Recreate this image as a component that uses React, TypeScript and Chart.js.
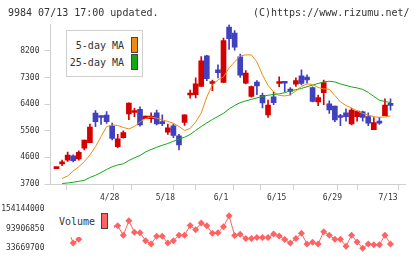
import { useEffect, useRef } from 'react';
import { Chart, registerables } from 'chart.js';

Chart.register(...registerables);

// Trading days shown on the chart (2020)
const dates = [
  '4/14', '4/15', '4/16', '4/17', '4/20', '4/21', '4/22', '4/23', '4/24', '4/27',
  '4/28', '4/30', '5/1', '5/7', '5/8', '5/11', '5/12', '5/13', '5/14', '5/15',
  '5/18', '5/19', '5/20', '5/21', '5/22', '5/25', '5/26', '5/27', '5/28', '5/29',
  '6/1', '6/2', '6/3', '6/4', '6/5', '6/8', '6/9', '6/10', '6/11', '6/12',
  '6/15', '6/16', '6/17', '6/18', '6/19', '6/22', '6/23', '6/24', '6/25', '6/26',
  '6/29', '6/30', '7/1', '7/2', '7/3', '7/6', '7/7', '7/8', '7/9', '7/10',
  '7/13',
];

const open = [
  4220, 4380, 4510, 4650, 4550, 4910, 5100, 6100, 6000, 6030,
  5660, 4960, 5270, 6070, 6120, 6230, 5910, 5910, 6110, 5810,
  5450, 5670, 5330, 5780, 6710, 6720, 7000, 8040, 7100, 7560,
  7140, 9010, 8810, 8000, 7110, 6660, 7150, 6700, 6040, 6650,
  7100, 7160, 6910, 7080, 7360, 7320, 6960, 6480, 6790, 6410,
  6340, 5990, 6110, 5730, 5980, 6140, 5980, 5540, 5810, 6010,
  6400,
];
const high = [
  4240, 4510, 4780, 4690, 4820, 5190, 5730, 6180, 6010, 6150,
  5760, 5380, 5500, 6450, 6260, 6310, 6000, 6110, 6200, 6040,
  5730, 5730, 5380, 6040, 6880, 7290, 8010, 8050, 7220, 7730,
  8640, 9090, 8890, 8100, 7540, 7010, 7200, 6780, 6540, 6820,
  7330, 7170, 6960, 7290, 7560, 7390, 6990, 6710, 7220, 6510,
  6340, 6060, 6240, 6260, 6170, 6170, 6110, 5950, 5950, 6580,
  6580,
];
const low = [
  4220, 4320, 4460, 4450, 4510, 4850, 5100, 5640, 5720, 5750,
  5190, 4930, 5250, 5880, 5980, 5660, 5910, 5780, 5700, 5670,
  5380, 5270, 4850, 5680, 6600, 6610, 7000, 7200, 6860, 7290,
  7140, 8250, 8230, 7310, 7090, 6640, 6720, 6270, 5950, 6380,
  6990, 6820, 6710, 7000, 7050, 7110, 6475, 6350, 6380, 6090,
  5810, 5670, 5830, 5700, 5830, 5830, 5670, 5540, 5720, 6010,
  6200,
];
const close = [
  4240, 4450, 4680, 4490, 4770, 5190, 5630, 5810, 5950, 5810,
  5240, 5230, 5440, 6440, 6170, 5700, 6000, 6000, 5730, 5740,
  5600, 5340, 5020, 6040, 6750, 7090, 7870, 7260, 7150, 7470,
  8550, 8620, 8330, 7380, 7450, 7000, 7020, 6440, 6370, 6450,
  7160, 7110, 6830, 7200, 7100, 7220, 6490, 6620, 7130, 6210,
  5870, 5950, 5980, 6200, 6170, 5950, 5760, 5780, 5760, 6370,
  6360,
];

const ma5 = [
  null, 3886, 3971, 4140, 4286, 4455, 4682, 4963, 5302, 5640,
  5698, 5681, 5613, 5562, 5647, 5799, 5918, 5969, 5924, 5867,
  5816, 5755, 5647, 5512, 5579, 5799, 6104, 6646, 7052, 7221,
  7323, 7628, 7831, 8034, 8068, 8068, 7831, 7391, 7035, 6815,
  6697, 6680, 6713, 6849, 7001, 7086, 7069, 6967, 6917, 6906,
  6697, 6477, 6358, 6273, 6172, 6087, 6036, 5975, 5958, 5969,
  6002,
];
const ma25 = [
  null, 3717, 3734, 3758, 3791, 3825, 3920, 3995, 4089, 4191,
  4282, 4343, 4384, 4496, 4587, 4665, 4784, 4868, 4943, 5010,
  5071, 5146, 5224, 5281, 5376, 5512, 5647, 5765, 5884, 5986,
  6094, 6240, 6358, 6453, 6510, 6561, 6612, 6663, 6703, 6730,
  6747, 6791, 6849, 6890, 6934, 6991, 7045, 7103, 7154, 7177,
  7154, 7086, 7035, 6984, 6951, 6900, 6798, 6663, 6534, 6493,
  6453,
];

const volume = [
  97000000, 106000000, 94000000, 49500000, 60900000, 118000000, 154144000, 128000000, 108000000, 112000000,
  100000000, 102400000, 73400000, 117700000, 82400000, 81500000, 56400000, 46500000, 70400000, 70600000,
  49500000, 56400000, 73400000, 73300000, 103300000, 90500000, 111400000, 102400000, 79400000, 81500000,
  99400000, 133200000, 72500000, 76400000, 63600000, 63500000, 66500000, 66400000, 66600000, 77300000,
  71300000, 60600000, 49500000, 63600000, 79400000, 46500000, 51600000, 46600000, 84500000, 73400000,
  61500000, 61400000, 39600000, 73400000, 52500000, 33669700, 46500000, 44100000, 44200000, 73500000,
  46500000,
];

const priceTicks = [3700, 4600, 5500, 6400, 7300, 8200];
const volumeTicks = [33669700, 93906850, 154144000];
const dateLabelStep = 10;

const UP = '#d40000';
const DOWN = '#4040c0';
const MA5_COLOR = '#f08a10';
const MA25_COLOR = '#14a814';
const VOL_COLOR = '#ff6262';
const AXIS = '#d0d0d0';
const TEXT = '#333333';
const MONO = '"DejaVu Sans Mono", "Liberation Mono", monospace';

const X_MIN = -1.078;
const X_MAX = 62.69;
const PLOT_LEFT = 50.5;
const PLOT_RIGHT_PAD = 14.5;

const isDateTick = (v: number) => Number.isInteger(v) && v % dateLabelStep === 0 && v < dates.length;

export default function App() {
  const mainRef = useRef<HTMLCanvasElement | null>(null);
  const volRef = useRef<HTMLCanvasElement | null>(null);

  useEffect(() => {
    if (!mainRef.current || !volRef.current) return;
    const candleColors = close.map((c, i) => (c >= open[i] ? UP : DOWN));
    const divisions = Array.from({ length: 12 }, (_, k) => X_MIN + (k * (X_MAX - X_MIN)) / 11);
    const dateIdx = dates.map((_, i) => i).filter((i) => i % dateLabelStep === 0 && i > 0);

    const main = new Chart(mainRef.current, {
      type: 'bar',
      data: {
        datasets: [
          {
            type: 'line',
            label: '5-day MA',
            data: ma5.map((v, i) => ({ x: i, y: v })),
            borderColor: MA5_COLOR,
            borderWidth: 1,
            pointRadius: 0,
            tension: 0,
          },
          {
            type: 'line',
            label: '25-day MA',
            data: ma25.map((v, i) => ({ x: i, y: v })),
            borderColor: MA25_COLOR,
            borderWidth: 1,
            pointRadius: 0,
            tension: 0,
          },
          {
            type: 'bar',
            label: 'range',
            data: low.map((l, i) => ({ x: i, y: [l, high[i]] })),
            backgroundColor: candleColors,
            barThickness: 1,
            grouped: false,
            borderWidth: 0,
          },
          {
            type: 'bar',
            label: 'body',
            data: open.map((o, i) => ({ x: i, y: [o, close[i]] })),
            backgroundColor: candleColors,
            barThickness: 5,
            grouped: false,
            borderWidth: 0,
            minBarLength: 2,
          },
        ] as any,
      },
      options: {
        responsive: false,
        animation: false,
        devicePixelRatio: 1,
        events: [],
        layout: { padding: { top: 24.4, right: PLOT_RIGHT_PAD, bottom: 55, left: 0 } },
        plugins: { legend: { display: false }, tooltip: { enabled: false } },
        scales: {
          x: {
            type: 'linear',
            min: X_MIN,
            max: X_MAX,
            bounds: 'data',
            offset: false,
            afterBuildTicks: (s: any) => {
              s.ticks = [...divisions, ...dateIdx].sort((a, b) => a - b).map((value) => ({ value }));
            },
            afterFit: (s: any) => {
              s.height = 20;
            },
            grid: {
              drawOnChartArea: false,
              drawTicks: true,
              tickLength: 6,
              color: AXIS,
              tickColor: (c: any) => (c.tick && isDateTick(c.tick.value) ? 'rgba(0,0,0,0)' : AXIS),
            },
            border: { display: true, color: AXIS, width: 1 },
            ticks: {
              autoSkip: false,
              maxRotation: 0,
              minRotation: 0,
              padding: 3,
              labelOffset: -2.5,
              color: TEXT,
              font: { family: MONO, size: 8 },
              callback: (v: any) => (isDateTick(v) ? dates[v] : ''),
            },
          },
          y: {
            type: 'linear',
            min: 3700,
            max: 9100,
            afterBuildTicks: (s: any) => {
              s.ticks = priceTicks.map((value) => ({ value }));
            },
            afterFit: (s: any) => {
              s.width = PLOT_LEFT;
            },
            grid: { drawOnChartArea: false, drawTicks: true, tickLength: 6, color: AXIS },
            border: { display: true, color: AXIS, width: 1 },
            ticks: {
              padding: 5,
              color: TEXT,
              font: { family: MONO, size: 8 },
              callback: (v: any) => String(v),
            },
          },
        },
      } as any,
    });

    const vol = new Chart(volRef.current, {
      type: 'line',
      data: {
        datasets: [
          {
            label: 'Volume',
            data: volume.map((v, i) => ({ x: i, y: v })),
            borderColor: VOL_COLOR,
            backgroundColor: VOL_COLOR,
            borderWidth: 1,
            pointStyle: 'rectRot',
            pointRadius: 3.5,
            pointBorderWidth: 0,
            pointBackgroundColor: VOL_COLOR,
            tension: 0,
            clip: false,
          },
        ] as any,
      },
      options: {
        responsive: false,
        animation: false,
        devicePixelRatio: 1,
        events: [],
        layout: { padding: { top: 209, right: PLOT_RIGHT_PAD, bottom: 9.7, left: 0 } },
        plugins: { legend: { display: false }, tooltip: { enabled: false } },
        scales: {
          x: { type: 'linear', display: false, min: X_MIN, max: X_MAX, bounds: 'data' },
          y: {
            type: 'linear',
            min: volumeTicks[0],
            max: volumeTicks[volumeTicks.length - 1],
            afterBuildTicks: (s: any) => {
              s.ticks = volumeTicks.map((value) => ({ value }));
            },
            afterFit: (s: any) => {
              s.width = PLOT_LEFT;
            },
            grid: { display: false, drawTicks: false },
            border: { display: false },
            ticks: {
              padding: 6,
              color: TEXT,
              font: { family: MONO, size: 8 },
              callback: (v: any) => String(v),
            },
          },
        },
      } as any,
    });

    return () => {
      main.destroy();
      vol.destroy();
    };
  }, []);

  const text: React.CSSProperties = {
    position: 'absolute',
    fontFamily: MONO,
    fontSize: 10,
    lineHeight: '12px',
    color: TEXT,
    whiteSpace: 'pre',
  };

  return (
    <div style={{ position: 'absolute', left: 0, top: 0, width: 420, height: 259, background: '#fff', overflow: 'hidden' }}>
      <canvas ref={mainRef} width={420} height={259} style={{ position: 'absolute', left: 0, top: 0 }} />
      <canvas ref={volRef} width={420} height={259} style={{ position: 'absolute', left: 0, top: 0 }} />

      <div style={{ ...text, left: 8, top: 7 }}>9984 07/13 17:00 updated.</div>
      <div style={{ ...text, right: 10.5, top: 7 }}>(C)https://www.rizumu.net/</div>

      <div
        style={{
          position: 'absolute',
          left: 66,
          top: 30,
          width: 77,
          height: 47,
          boxSizing: 'border-box',
          border: `1px solid ${AXIS}`,
          background: '#fff',
        }}
      >
        <div style={{ ...text, right: 18, top: 8.7 }}>5-day MA</div>
        <div style={{ ...text, right: 18, top: 26 }}>25-day MA</div>
        <div style={{ position: 'absolute', left: 64, top: 5.7, width: 7, height: 16, boxSizing: 'border-box', border: '1px solid #444', background: MA5_COLOR }} />
        <div style={{ position: 'absolute', left: 64, top: 23, width: 7, height: 16, boxSizing: 'border-box', border: '1px solid #444', background: MA25_COLOR }} />
      </div>

      <div style={{ position: 'absolute', left: 52, top: 205, width: 62, height: 32, background: '#fff' }}>
        <div style={{ ...text, left: 7, top: 11.3 }}>Volume</div>
        <div style={{ position: 'absolute', left: 49, top: 7.7, width: 7, height: 16, boxSizing: 'border-box', border: '1px solid #444', background: VOL_COLOR }} />
      </div>
    </div>
  );
}
